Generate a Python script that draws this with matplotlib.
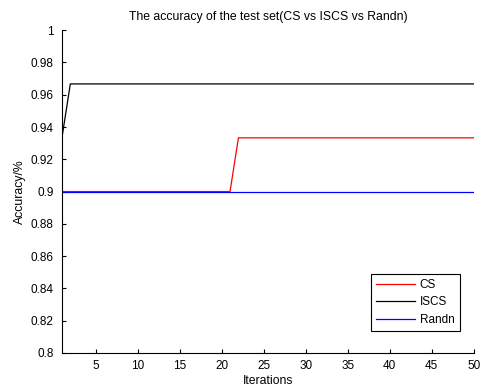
import matplotlib
matplotlib.use('Agg')
import matplotlib.pyplot as plt

plt.rcParams['font.family'] = ['Liberation Sans', 'DejaVu Sans']
plt.rcParams['font.size'] = 7.5

# data
iterations = list(range(1, 51))
acc_cs = [0.9, 0.9, 0.9, 0.9, 0.9, 0.9, 0.9, 0.9, 0.9, 0.9,
          0.9, 0.9, 0.9, 0.9, 0.9, 0.9, 0.9, 0.9, 0.9, 0.9,
          0.9, 0.9333, 0.9333, 0.9333, 0.9333, 0.9333, 0.9333, 0.9333, 0.9333, 0.9333,
          0.9333, 0.9333, 0.9333, 0.9333, 0.9333, 0.9333, 0.9333, 0.9333, 0.9333, 0.9333,
          0.9333, 0.9333, 0.9333, 0.9333, 0.9333, 0.9333, 0.9333, 0.9333, 0.9333, 0.9333]
acc_iscs = [0.9333, 0.9667, 0.9667, 0.9667, 0.9667, 0.9667, 0.9667, 0.9667, 0.9667, 0.9667,
            0.9667, 0.9667, 0.9667, 0.9667, 0.9667, 0.9667, 0.9667, 0.9667, 0.9667, 0.9667,
            0.9667, 0.9667, 0.9667, 0.9667, 0.9667, 0.9667, 0.9667, 0.9667, 0.9667, 0.9667,
            0.9667, 0.9667, 0.9667, 0.9667, 0.9667, 0.9667, 0.9667, 0.9667, 0.9667, 0.9667,
            0.9667, 0.9667, 0.9667, 0.9667, 0.9667, 0.9667, 0.9667, 0.9667, 0.9667, 0.9667]
acc_randn = [0.9, 0.9, 0.9, 0.9, 0.9, 0.9, 0.9, 0.9, 0.9, 0.9,
             0.9, 0.9, 0.9, 0.9, 0.9, 0.9, 0.9, 0.9, 0.9, 0.9,
             0.9, 0.9, 0.9, 0.9, 0.9, 0.9, 0.9, 0.9, 0.9, 0.9,
             0.9, 0.9, 0.9, 0.9, 0.9, 0.9, 0.9, 0.9, 0.9, 0.9,
             0.9, 0.9, 0.9, 0.9, 0.9, 0.9, 0.9, 0.9, 0.9, 0.9]
xticks = [5, 10, 15, 20, 25, 30, 35, 40, 45, 50]
yticks = [0.8, 0.82, 0.84, 0.86, 0.88, 0.9, 0.92, 0.94, 0.96, 0.98, 1]
ytick_labels = ['0.8', '0.82', '0.84', '0.86', '0.88', '0.9', '0.92', '0.94', '0.96', '0.98', '1']

fig = plt.figure(figsize=(4.8, 3.87), dpi=100)
ax = fig.add_axes([0.129, 0.088, 0.858, 0.834])

ax.plot(iterations, acc_cs, color='#ff0000', lw=0.9, label='CS')
ax.plot(iterations, acc_iscs, color='#000000', lw=0.9, label='ISCS')
ax.plot(iterations, acc_randn, color='#0000ff', lw=0.9, label='Randn')

ax.set_xlim(1, 50)
ax.set_ylim(0.8, 1)
ax.set_xticks(xticks)
ax.set_yticks(yticks)
ax.set_yticklabels(ytick_labels)
ax.tick_params(direction='in', length=3, width=0.8, labelsize=8.5)
ax.tick_params(axis='x', pad=5)
ax.tick_params(axis='y', pad=6)
ax.spines['top'].set_visible(False)
ax.spines['right'].set_visible(False)

ax.set_title('The accuracy of the test set(CS vs ISCS vs Randn)', fontsize=8.8, pad=7)
ax.set_xlabel('Iterations', fontsize=8.8, labelpad=2.5)
ax.set_ylabel('Accuracy/%', fontsize=8.8, labelpad=3)

leg = ax.legend(loc='lower right', bbox_to_anchor=(0.966, 0.068), borderaxespad=0,
                fancybox=False, framealpha=1, edgecolor='black', handlelength=3.3,
                fontsize=8.5, borderpad=0.45, labelspacing=0.45, handletextpad=0.4)
leg.get_frame().set_linewidth(0.8)

fig.savefig('out.png', dpi=100)
